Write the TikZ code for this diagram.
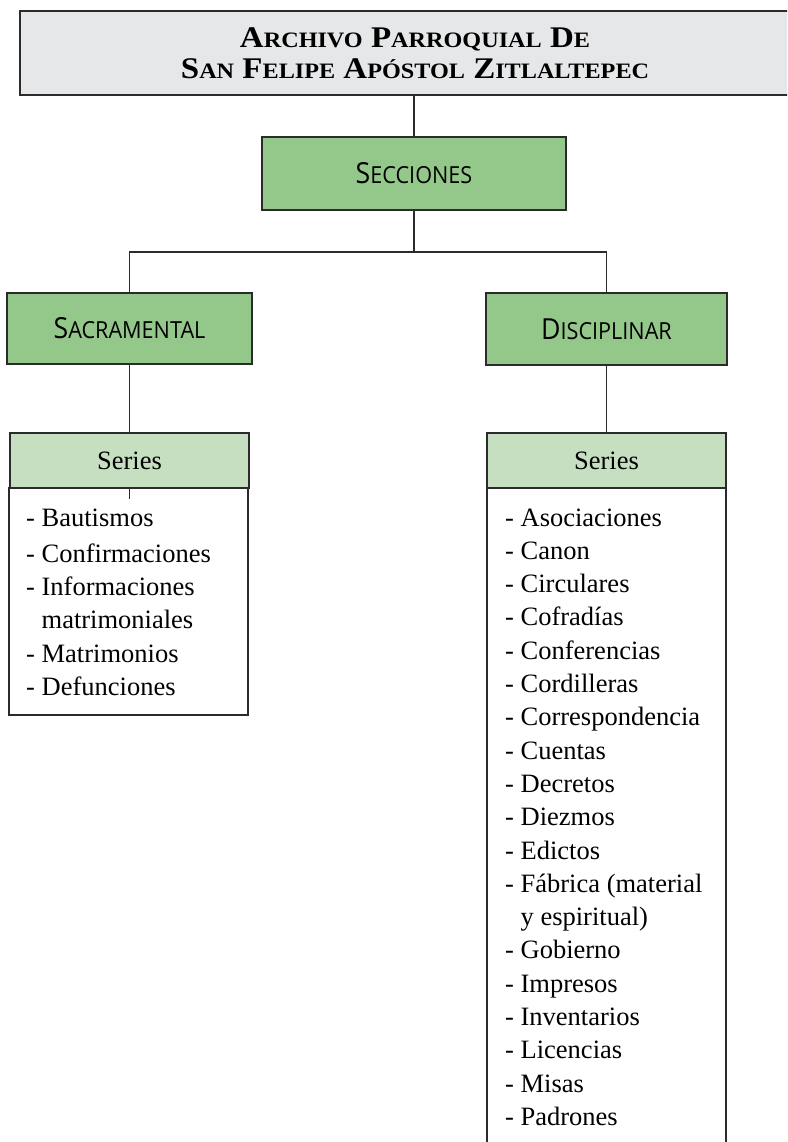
\documentclass[tikz,border=0pt]{standalone}
\usepackage{fontspec}
\setmainfont{Liberation Serif}
\newfontfamily\titlefont[FakeStretch=1.1]{Liberation Serif}
\newfontfamily\headfont[FakeStretch=0.92]{Open Sans}
\definecolor{topgray}{HTML}{E6E7E8}
\definecolor{boxgreen}{HTML}{94C78A}
\definecolor{lightgreen}{HTML}{C6DFC0}
\definecolor{edge}{HTML}{2B2B2B}
\newcommand\tsc[2]{{\fontsize{30}{31}\selectfont #1}{\fontsize{22}{31}\selectfont #2}}
\newcommand\hsc[2]{{\fontsize{29}{29}\selectfont #1}{\fontsize{23.5}{29}\selectfont #2}}
\tikzset{
  boxbase/.style={draw=edge, line width=1.3pt, inner sep=0pt, rectangle},
  topbox/.style={boxbase, fill=topgray, align=center, font=\titlefont\bfseries\fontsize{30}{31}\selectfont},
  greenbox/.style={boxbase, fill=boxgreen, font=\headfont\fontsize{29}{29}\selectfont},
  serieshead/.style={boxbase, fill=lightgreen, font=\fontsize{26.5}{30}\selectfont},
  listbox/.style={boxbase, fill=white},
  listtext/.style={anchor=base west, inner sep=0pt, font=\fontsize{26.5}{33.3}\selectfont},
  conn/.style={draw=edge, line width=1.2pt}
}
\begin{document}
\begin{tikzpicture}[x=1pt, y=-1pt]
\useasboundingbox (0,0) rectangle (787,1142);
\clip (0,0) rectangle (787,1142);
\node[topbox, minimum width=790, minimum height=84] (top) at (415,53)
  {\tsc{A}{RCHIVO} \tsc{P}{ARROQUIAL} \tsc{D}{E}\\
   \tsc{S}{AN} \tsc{F}{ELIPE} \tsc{A}{PÓSTOL} \tsc{Z}{ITLALTEPEC}};
\node[greenbox, minimum width=304, minimum height=73] (secc) at (414,173.5) {\hsc{S}{ECCIONES}};
\node[greenbox, minimum width=245, minimum height=71] (sacr) at (129.5,328.5) {\hsc{S}{ACRAMENTAL}};
\node[greenbox, minimum width=241, minimum height=72] (disc) at (606.5,329) {\hsc{D}{ISCIPLINAR}};
\node[serieshead, minimum width=239, minimum height=55] (lser) at (129.5,460.5) {Series};
\node[serieshead, minimum width=239, minimum height=55] (rser) at (606.5,460.5) {Series};
\node[listbox, minimum width=239, minimum height=227] (lbody) at (128.5,601.5) {};
\node[listbox, minimum width=239, minimum height=672] (rbody) at (606.5,824) {};
\coordinate (split) at (414,252);
\draw[conn] (secc.north |- top.south) -- (secc.north);
\draw[conn] (secc.south) -- (split);
\draw[conn] (sacr.north) |- (split) -| (disc.north);
\draw[conn] (sacr.south) -- (lser.north);
\draw[conn] (disc.south) -- (rser.north);
\draw[conn] (lser.south) -- ++(0,10);
\node[listtext] (llist) at (26,526) {\begin{tabular}[t]{@{}l@{}}
- Bautismos\\[3pt]
- Confirmaciones\\
- Informaciones\\
\phantom{- }matrimoniales\\
- Matrimonios\\
- Defunciones
\end{tabular}};
\node[listtext] (rlist) at (505,526) {\begin{tabular}[t]{@{}l@{}}
- Asociaciones\\
- Canon\\
- Circulares\\
- Cofradías\\
- Conferencias\\
- Cordilleras\\
- Correspondencia\\
- Cuentas\\
- Decretos\\
- Diezmos\\
- Edictos\\
- Fábrica (material\\
\phantom{- }y espiritual)\\
- Gobierno\\
- Impresos\\
- Inventarios\\
- Licencias\\
- Misas\\
- Padrones
\end{tabular}};
\end{tikzpicture}
\end{document}
